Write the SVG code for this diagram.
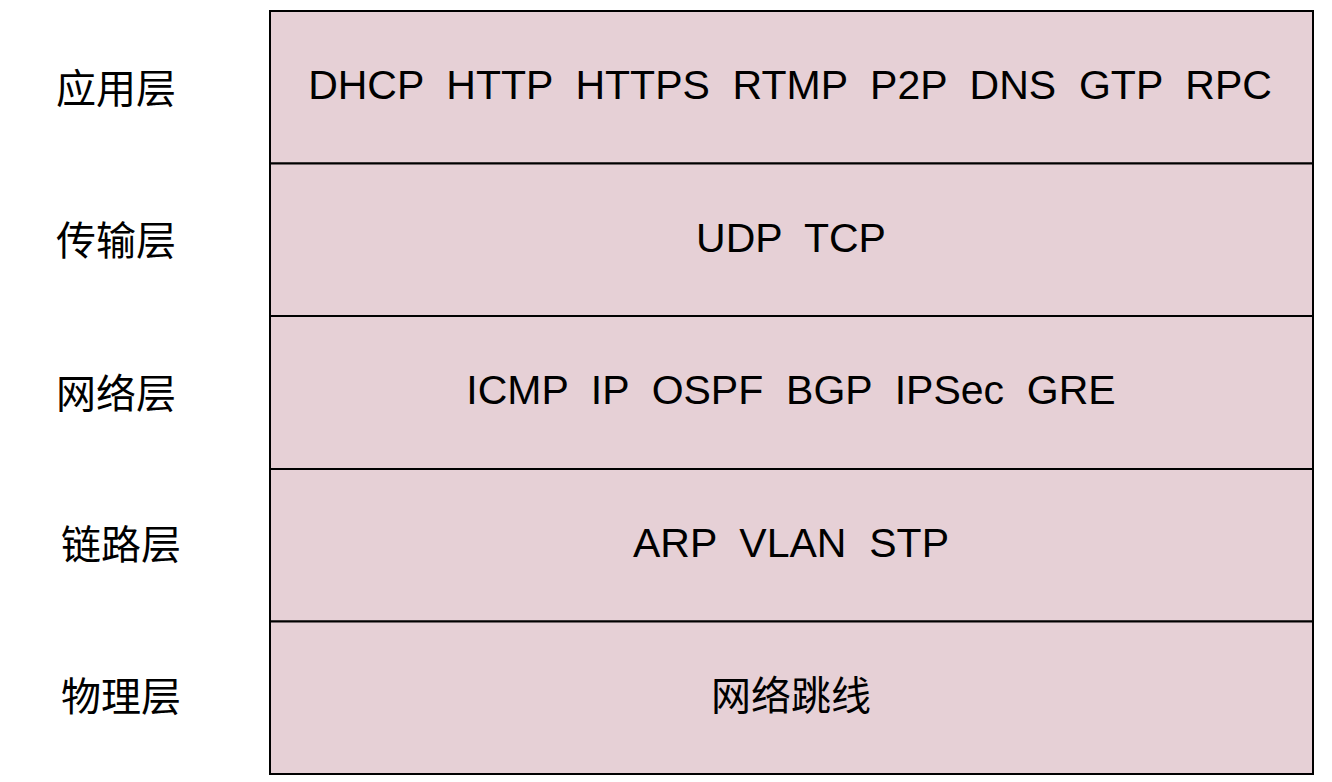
<svg xmlns="http://www.w3.org/2000/svg" width="1332" height="782" viewBox="0 0 1332 782">
<style>
.layer{fill:#e6d0d6;stroke:#000;stroke-width:2}
.proto{font-family:"Liberation Sans",Arial,"Noto Sans CJK SC",sans-serif;font-size:41px;fill:#000;text-anchor:middle;white-space:pre}
.cjk{font-family:"Noto Sans CJK SC",sans-serif;font-size:40px;fill:#000}
.lbl{font-family:"Noto Sans CJK SC",sans-serif;font-size:40px;fill:#000;text-anchor:start}
</style>
<rect width="1332" height="782" fill="#fff"/>
<g id="app">
<rect class="layer" x="270" y="11" width="1043" height="152.5"/>
<text class="proto" x="790" y="98.5" xml:space="preserve">DHCP  HTTP  HTTPS  RTMP  P2P  DNS  GTP  RPC</text>
</g>
<g id="transport">
<rect class="layer" x="270" y="163.5" width="1043" height="152.5"/>
<text class="proto" x="791" y="251.5" xml:space="preserve">UDP  TCP</text>
</g>
<g id="network">
<rect class="layer" x="270" y="316" width="1043" height="153"/>
<text class="proto" x="791" y="404" xml:space="preserve">ICMP  IP  OSPF  BGP  IPSec  GRE</text>
</g>
<g id="link">
<rect class="layer" x="270" y="469" width="1043" height="152.5"/>
<text class="proto" x="791" y="557" xml:space="preserve">ARP  VLAN  STP</text>
</g>
<g id="physical">
<rect class="layer" x="270" y="621.5" width="1043" height="152.5"/>
<text class="cjk" x="791" y="710" text-anchor="middle">网络跳线</text>
</g>
<g id="labels">
<text class="lbl" x="56" y="103">应用层</text>
<text class="lbl" x="56" y="255">传输层</text>
<text class="lbl" x="56" y="408">网络层</text>
<text class="lbl" x="61" y="559">链路层</text>
<text class="lbl" x="61" y="711">物理层</text>
</g>
<g id="connectors"></g>
</svg>
